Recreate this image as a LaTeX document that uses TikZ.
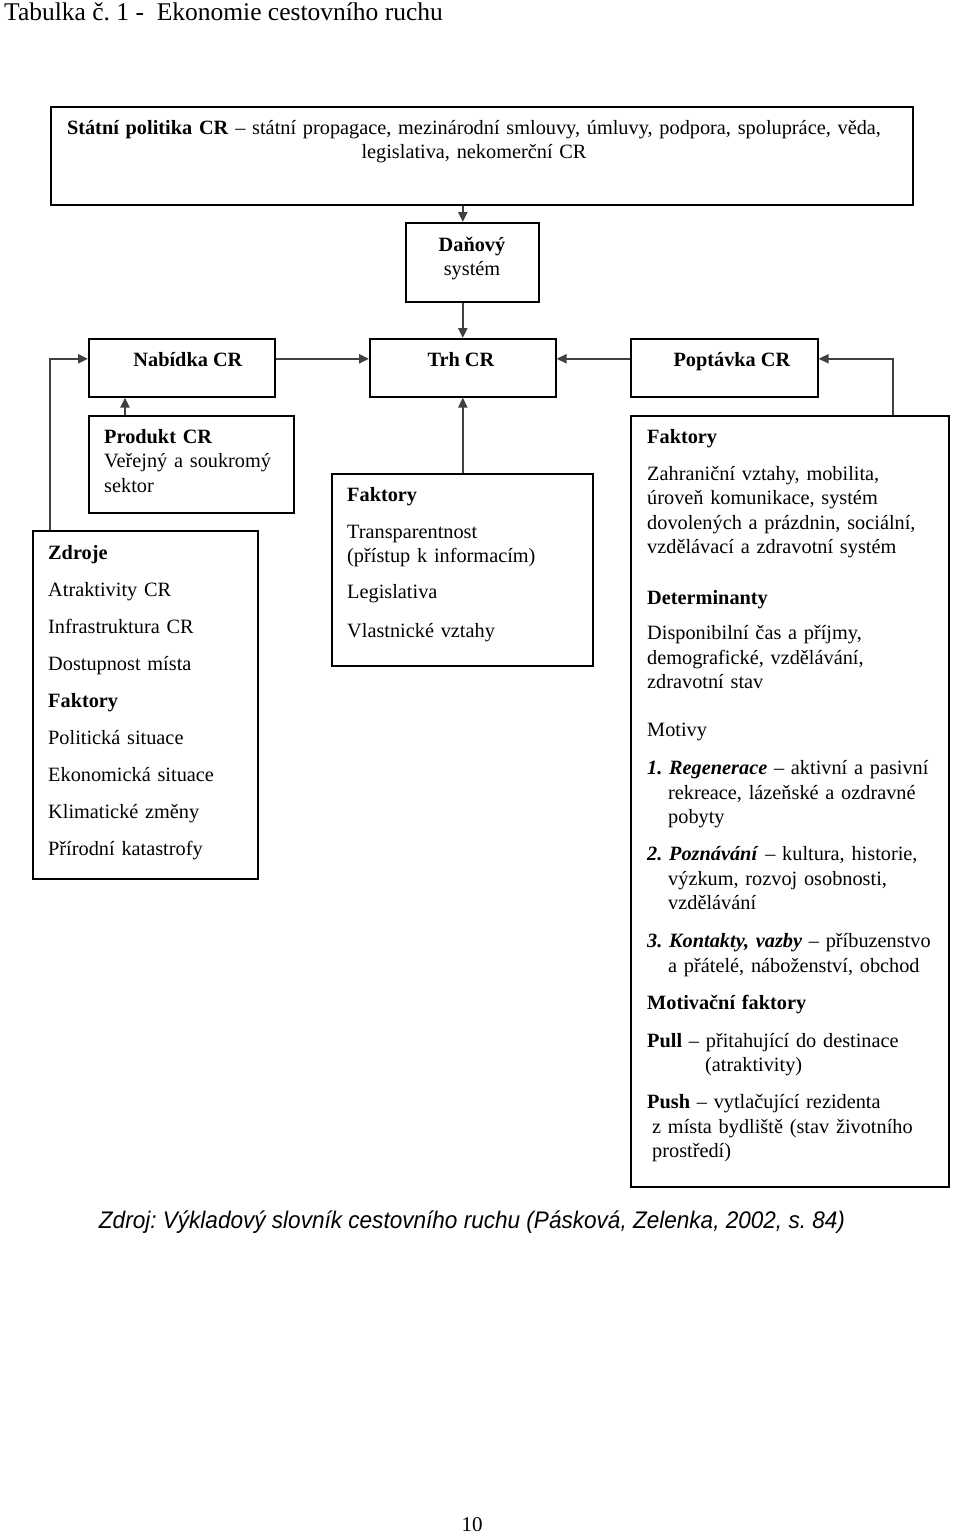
\documentclass[tikz,border=0pt]{standalone}
\usepackage{fontspec}
\setmainfont{Liberation Serif}
\newfontfamily\zdrojfont{Liberation Sans}
\usetikzlibrary{arrows.meta,positioning}
\frenchspacing

\tikzset{
  box/.style={draw=black, line width=1.6pt, anchor=north west, inner sep=0pt},
  txt/.style={anchor=base west, inner sep=0pt, align=left,
    font=\fontsize{20.3}{24.5}\selectfont},
  link/.style={draw=black!75, line width=2.2pt,
    -{Triangle[length=10pt,width=9pt]}}
}

\begin{document}
\begin{tikzpicture}[x=1pt,y=-1pt]
  \useasboundingbox[fill=white] (0,0) rectangle (960,1534);

  \node[anchor=base west, inner sep=0pt, font=\fontsize{25.5}{28}\selectfont]
    (titul) at (4,20) {Tabulka č. 1 -~~Ekonomie cestovního ruchu};

  % boxes
  \node[box, minimum width=862pt, minimum height=98pt] (politika) at (50,106) {};
  \node[box, minimum width=133pt, minimum height=79pt] (danovy) at (405,222) {};
  \node[box, minimum width=186pt, minimum height=58pt] (nabidka) at (88,338) {};
  \node[box, minimum width=186pt, minimum height=58pt] (trh) at (369,338) {};
  \node[box, minimum width=187pt, minimum height=58pt] (poptavka) at (630,338) {};
  \node[box, minimum width=205pt, minimum height=97pt] (produkt) at (88,415) {};
  \node[box, minimum width=261pt, minimum height=192pt] (trhfakt) at (331,473) {};
  \node[box, minimum width=225pt, minimum height=348pt] (zdroje) at (32,530) {};
  \node[box, minimum width=318pt, minimum height=771pt] (poptfakt) at (630,415) {};

  % texts
  \node[txt, anchor=base, align=center, text width=850pt] (politikatxt) at (474,134)
    {\textbf{Státní politika CR} – státní propagace, mezinárodní smlouvy, úmluvy, podpora, spolupráce, věda,\\
     legislativa, nekomerční CR};
  \node[txt, anchor=base, align=center, text width=120pt] (danovytxt) at (472,251)
    {\textbf{Daňový}\\systém};
  \node[txt, anchor=base] (nabidkatxt) at (188,366) {\textbf{Nabídka CR}};
  \node[txt, anchor=base] (trhtxt) at (461,366) {\textbf{Trh CR}};
  \node[txt, anchor=base] (poptavkatxt) at (732,366) {\textbf{Poptávka CR}};

  \node[txt, text width=185pt] (produkttxt) at (104,443)
    {\textbf{Produkt CR}\\
     Veřejný a soukromý\\
     sektor};

  \node[txt, text width=240pt] (trhfakttxt) at (347,501)
    {\textbf{Faktory}\\[12.5pt]
     Transparentnost\\
     (přístup k informacím)\\[11.5pt]
     Legislativa\\[14.5pt]
     Vlastnické vztahy};

  \node[txt, text width=205pt] (zdrojetxt) at (48,559)
    {\textbf{Zdroje}\\[12.5pt]
     Atraktivity CR\\[12.5pt]
     Infrastruktura CR\\[12.5pt]
     Dostupnost místa\\[12.5pt]
     \textbf{Faktory}\\[12.5pt]
     Politická situace\\[12.5pt]
     Ekonomická situace\\[12.5pt]
     Klimatické změny\\[12.5pt]
     Přírodní katastrofy};

  \node[txt, text width=300pt] (poptfakttxt) at (647,443)
    {\textbf{Faktory}\\[12.5pt]
     Zahraniční vztahy, mobilita,\\
     úroveň komunikace, systém\\
     dovolených a prázdnin, sociální,\\
     vzdělávací a zdravotní systém\\[26.5pt]
     \textbf{Determinanty}\\[10.5pt]
     Disponibilní čas a příjmy,\\
     demografické, vzdělávání,\\
     zdravotní stav\\[23.5pt]
     Motivy\\[13.5pt]
     \textbf{\textit{1. Regenerace}} – aktivní a pasivní\\
     \hspace*{21pt}rekreace, lázeňské a ozdravné\\
     \hspace*{21pt}pobyty\\[12.5pt]
     \textbf{\textit{2. Poznávání}} – kultura, historie,\\
     \hspace*{21pt}výzkum, rozvoj osobnosti,\\
     \hspace*{21pt}vzdělávání\\[13.5pt]
     \textbf{\textit{3. Kontakty, vazby}} – příbuzenstvo\\
     \hspace*{21pt}a přátelé, náboženství, obchod\\[12.5pt]
     \textbf{Motivační faktory}\\[13.5pt]
     \textbf{Pull} – přitahující do destinace\\
     \hspace*{58pt}(atraktivity)\\[12.5pt]
     \textbf{Push} – vytlačující rezidenta\\
     \hspace*{5pt}z místa bydliště (stav životního\\
     \hspace*{5pt}prostředí)};

  % connectors
  \draw[link] (trh.north |- politika.south) -- (trh.north |- danovy.north);
  \draw[link] (trh.north |- danovy.south) -- (trh.north);
  \draw[link] ([yshift=9pt]nabidka.east) -- ([yshift=9pt]trh.west);
  \draw[link] ([yshift=9pt]poptavka.west) -- ([yshift=9pt]trh.east);
  \draw[link] ([xshift=-57pt]poptfakt.north east) |- ([yshift=9pt]poptavka.east);
  \draw[link] ([xshift=18pt]zdroje.north west) |- ([yshift=9pt]nabidka.west);
  \draw[link] ([xshift=37pt]produkt.north west) -- ([xshift=37pt]nabidka.south west);
  \draw[link] (trh.south |- trhfakt.north) -- (trh.south);

  \node[anchor=base, inner sep=0pt, font=\zdrojfont\itshape\fontsize{24}{28}\selectfont]
    (zdroj) at (472,1228)
    {\scalebox{0.94}[1]{Zdroj: Výkladový slovník cestovního ruchu (Pásková, Zelenka, 2002, s. 84)}};

  \node[anchor=base, inner sep=0pt, font=\fontsize{21}{24}\selectfont]
    (strana) at (472,1531) {10};
\end{tikzpicture}
\end{document}
